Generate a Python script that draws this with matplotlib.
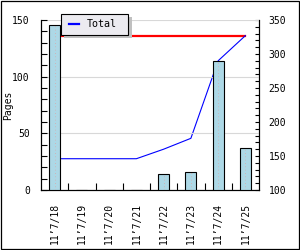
import matplotlib.pyplot as plt
import numpy as np
from matplotlib.lines import Line2D
from matplotlib.patches import Rectangle
from matplotlib.ticker import MultipleLocator
from matplotlib.transforms import Affine2D

# data
dates = ['11’7/18', '11’7/19', '11’7/20', '11’7/21', '11’7/22', '11’7/23', '11’7/24', '11’7/25']
pages = [146, 0, 0, 0, 14, 16, 114, 37]
total = [146, 146, 146, 146, 160, 176, 290, 327]
total_max = [327, 327, 327, 327, 327, 327, 327, 327]

plt.rcParams['font.family'] = 'DejaVu Sans Mono'
plt.rcParams['font.size'] = 7

fig = plt.figure(figsize=(3, 2.5), dpi=100)
fig.patch.set_facecolor('white')
ax = fig.add_axes([41/300, 60/250, 218/300, 170/250])
ax2 = ax.twinx()

x = np.arange(len(dates))

# cumulative lines on the right axis, drawn behind the bars
ax2.plot(x, total_max, color='red', lw=1.6, zorder=2)
ax2.plot(x, total, color='blue', lw=0.8, zorder=3)
ax2.set_ylim(100, 350)
ax2.yaxis.set_major_locator(MultipleLocator(50))
ax2.yaxis.set_minor_locator(MultipleLocator(10))
ax2.tick_params(axis='y', which='both', direction='in', length=3, width=0.8, pad=7)

# bars on the left axis
ax.set_zorder(ax2.get_zorder() + 1)
ax.patch.set_visible(False)
ax.bar(x, pages, width=0.4, color='#add8e6', edgecolor='black', lw=0.8, zorder=3)
ax.vlines(x, 0, pages, colors='#d9aaaa', linestyles=(0, (1, 3)), lw=0.6, zorder=4)
ax.set_xlim(-0.5, len(dates) - 0.5)
ax.set_ylim(0, 150)
ax.yaxis.set_major_locator(MultipleLocator(50))
ax.yaxis.set_minor_locator(MultipleLocator(10))
ax.tick_params(axis='y', which='both', direction='in', length=4, width=0.8, pad=8)
ax.grid(axis='y', color='#d8d8d8', lw=0.8, zorder=0)
ax.set_axisbelow(True)

ax.set_xticks(x)
ax.set_xticklabels(dates, rotation=90)
ax.set_xticks(x[1:] - 0.5, minor=True)
ax.tick_params(axis='x', which='major', length=0, pad=9)
ax.tick_params(axis='x', which='minor', direction='in', length=5, width=0.8)

ax.set_ylabel('Pages')
ax.yaxis.set_label_coords(-28/218, 0.5)

for a in (ax, ax2):
    a.spines['top'].set_visible(False)
    for s in ('left', 'right', 'bottom'):
        a.spines[s].set_linewidth(0.8)

# legend box, placed in pixels from the top-left corner
pix = Affine2D().scale(1/300, -1/250).translate(0, 1) + fig.transFigure
fig.add_artist(Rectangle((63.5, 16.5), 68, 21, transform=pix, facecolor='#c0c0c0',
                         edgecolor='none', zorder=20))
fig.add_artist(Rectangle((60.5, 13.5), 67, 21, transform=pix, facecolor='#ecebf0',
                         edgecolor='black', lw=0.8, zorder=21))
fig.add_artist(Line2D([69, 79], [24, 24], transform=pix, color='blue', lw=1.6, zorder=22))
fig.text(87 / 300, 1 - 24 / 250, 'Total', ha='left', va='center', fontsize=7.2, zorder=22)

# border round the whole picture
fig.add_artist(Rectangle((0.5/300, 1.5/250), 298/300, 248/250, transform=fig.transFigure,
                         fill=False, edgecolor='black', lw=0.9))

fig.savefig('out.png', dpi=100)
